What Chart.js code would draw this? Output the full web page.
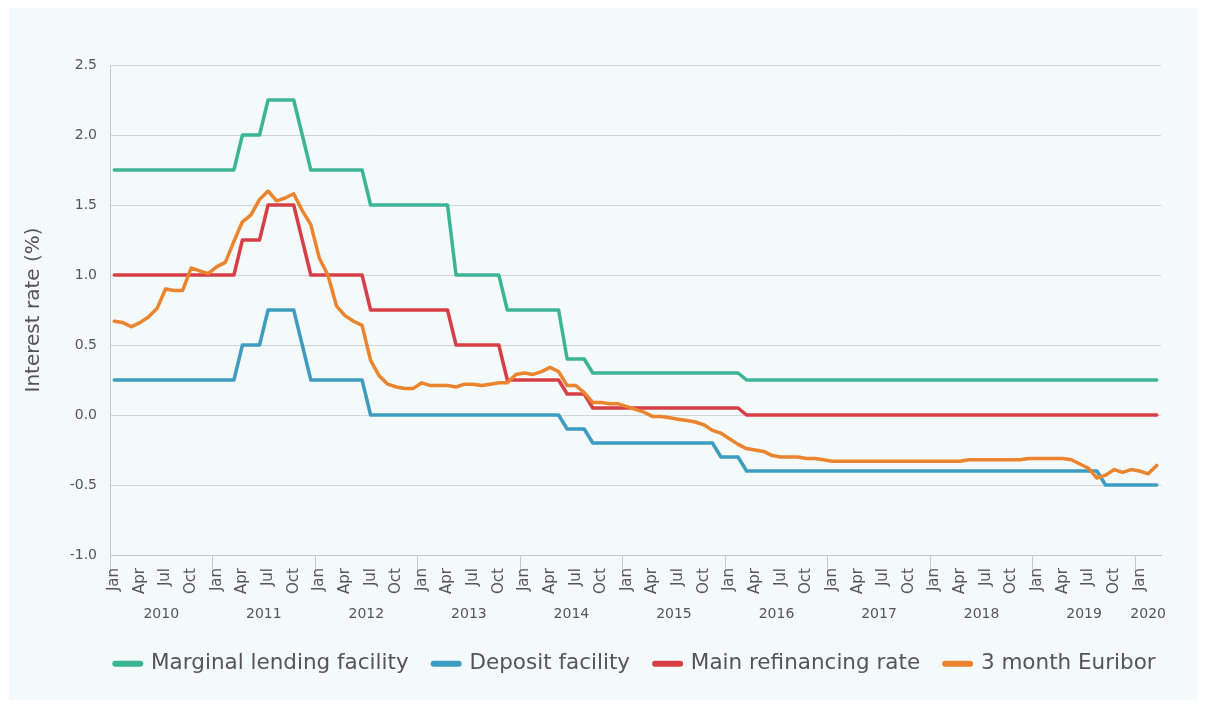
<!DOCTYPE html>
<html>
<head>
<meta charset="utf-8">
<script src="https://cdn.jsdelivr.net/npm/chart.js@4.4.1/dist/chart.umd.min.js"></script>
<style>
html,body{margin:0;padding:0;background:#ffffff;width:1207px;height:707px;overflow:hidden;}
#panel{position:absolute;left:9px;top:8px;width:1188px;height:692px;background:#f4f9f9;}
canvas{display:block;}
</style>
</head>
<body>
<div id="panel"><canvas id="c" width="1188" height="692"></canvas></div>
<script>
// ---- Categories ----
const monthNames = ['Jan','Feb','Mar','Apr','May','Jun','Jul','Aug','Sep','Oct','Nov','Dec'];
const years = [2010,2011,2012,2013,2014,2015,2016,2017,2018,2019,2020];
const monthsInLastYear = 3;
const shownMonths = ['Jan','Apr','Jul','Oct'];
const months = [];
years.forEach((y, yi) => {
  const n = yi === years.length - 1 ? monthsInLastYear : 12;
  for (let m = 0; m < n; m++) months.push(monthNames[m] + ' ' + y);
});

// ---- Series (monthly, Jan 2010 - Mar 2020) ----
const marginalLending = [
  1.75,1.75,1.75,1.75,1.75,1.75,1.75,1.75,1.75,1.75,1.75,1.75,
  1.75,1.75,1.75,2.00,2.00,2.00,2.25,2.25,2.25,2.25,2.00,1.75,
  1.75,1.75,1.75,1.75,1.75,1.75,1.50,1.50,1.50,1.50,1.50,1.50,
  1.50,1.50,1.50,1.50,1.00,1.00,1.00,1.00,1.00,1.00,0.75,0.75,
  0.75,0.75,0.75,0.75,0.75,0.40,0.40,0.40,0.30,0.30,0.30,0.30,
  0.30,0.30,0.30,0.30,0.30,0.30,0.30,0.30,0.30,0.30,0.30,0.30,
  0.30,0.30,0.25,0.25,0.25,0.25,0.25,0.25,0.25,0.25,0.25,0.25,
  0.25,0.25,0.25,0.25,0.25,0.25,0.25,0.25,0.25,0.25,0.25,0.25,
  0.25,0.25,0.25,0.25,0.25,0.25,0.25,0.25,0.25,0.25,0.25,0.25,
  0.25,0.25,0.25,0.25,0.25,0.25,0.25,0.25,0.25,0.25,0.25,0.25,
  0.25,0.25,0.25
];
const depositFacility = [
  0.25,0.25,0.25,0.25,0.25,0.25,0.25,0.25,0.25,0.25,0.25,0.25,
  0.25,0.25,0.25,0.50,0.50,0.50,0.75,0.75,0.75,0.75,0.50,0.25,
  0.25,0.25,0.25,0.25,0.25,0.25,0.00,0.00,0.00,0.00,0.00,0.00,
  0.00,0.00,0.00,0.00,0.00,0.00,0.00,0.00,0.00,0.00,0.00,0.00,
  0.00,0.00,0.00,0.00,0.00,-0.10,-0.10,-0.10,-0.20,-0.20,-0.20,-0.20,
  -0.20,-0.20,-0.20,-0.20,-0.20,-0.20,-0.20,-0.20,-0.20,-0.20,-0.20,-0.30,
  -0.30,-0.30,-0.40,-0.40,-0.40,-0.40,-0.40,-0.40,-0.40,-0.40,-0.40,-0.40,
  -0.40,-0.40,-0.40,-0.40,-0.40,-0.40,-0.40,-0.40,-0.40,-0.40,-0.40,-0.40,
  -0.40,-0.40,-0.40,-0.40,-0.40,-0.40,-0.40,-0.40,-0.40,-0.40,-0.40,-0.40,
  -0.40,-0.40,-0.40,-0.40,-0.40,-0.40,-0.40,-0.40,-0.50,-0.50,-0.50,-0.50,
  -0.50,-0.50,-0.50
];
const mainRefinancing = [
  1.00,1.00,1.00,1.00,1.00,1.00,1.00,1.00,1.00,1.00,1.00,1.00,
  1.00,1.00,1.00,1.25,1.25,1.25,1.50,1.50,1.50,1.50,1.25,1.00,
  1.00,1.00,1.00,1.00,1.00,1.00,0.75,0.75,0.75,0.75,0.75,0.75,
  0.75,0.75,0.75,0.75,0.50,0.50,0.50,0.50,0.50,0.50,0.25,0.25,
  0.25,0.25,0.25,0.25,0.25,0.15,0.15,0.15,0.05,0.05,0.05,0.05,
  0.05,0.05,0.05,0.05,0.05,0.05,0.05,0.05,0.05,0.05,0.05,0.05,
  0.05,0.05,0.00,0.00,0.00,0.00,0.00,0.00,0.00,0.00,0.00,0.00,
  0.00,0.00,0.00,0.00,0.00,0.00,0.00,0.00,0.00,0.00,0.00,0.00,
  0.00,0.00,0.00,0.00,0.00,0.00,0.00,0.00,0.00,0.00,0.00,0.00,
  0.00,0.00,0.00,0.00,0.00,0.00,0.00,0.00,0.00,0.00,0.00,0.00,
  0.00,0.00,0.00
];
const euribor3m = [
  0.67,0.66,0.63,0.66,0.70,0.76,0.90,0.89,0.89,1.05,1.03,1.01,
  1.06,1.09,1.24,1.38,1.43,1.54,1.60,1.53,1.55,1.58,1.46,1.36,
  1.12,1.00,0.78,0.71,0.67,0.64,0.39,0.28,0.22,0.20,0.19,0.19,
  0.23,0.21,0.21,0.21,0.20,0.22,0.22,0.21,0.22,0.23,0.23,0.29,
  0.30,0.29,0.31,0.34,0.31,0.21,0.21,0.16,0.09,0.09,0.08,0.08,
  0.06,0.04,0.02,-0.01,-0.01,-0.02,-0.03,-0.04,-0.05,-0.07,-0.11,-0.13,
  -0.17,-0.21,-0.24,-0.25,-0.26,-0.29,-0.30,-0.30,-0.30,-0.31,-0.31,-0.32,
  -0.33,-0.33,-0.33,-0.33,-0.33,-0.33,-0.33,-0.33,-0.33,-0.33,-0.33,-0.33,
  -0.33,-0.33,-0.33,-0.33,-0.32,-0.32,-0.32,-0.32,-0.32,-0.32,-0.32,-0.31,
  -0.31,-0.31,-0.31,-0.31,-0.32,-0.35,-0.38,-0.45,-0.43,-0.39,-0.41,-0.39,
  -0.40,-0.42,-0.36
];

// ---- Axis ----
const yMin = -1.0, yMax = 2.5, yStep = 0.5;

const FONT = 'DejaVu Sans';
const TEXT = '#555555';
const GRID = '#d2d5d8';
Chart.defaults.font.family = FONT;
Chart.defaults.color = TEXT;

const yearLabels = {
  id: 'yearLabels',
  afterDraw(chart) {
    const xs = chart.scales.x, ctx = chart.ctx;
    const half = (xs.getPixelForValue(1) - xs.getPixelForValue(0)) / 2;
    ctx.save();
    ctx.font = '14px "' + FONT + '"';
    ctx.fillStyle = TEXT;
    ctx.textAlign = 'center';
    ctx.textBaseline = 'middle';
    years.forEach(y => {
      const idx = [];
      months.forEach((m, i) => { if (m.endsWith(' ' + y)) idx.push(i); });
      const x0 = xs.getPixelForValue(idx[0]) - half;
      const x1 = xs.getPixelForValue(idx[idx.length - 1]) + half;
      ctx.fillText(String(y), (x0 + x1) / 2, chart.chartArea.bottom + 59);
    });
    ctx.restore();
  }
};
// centre the legend row on the plot area rather than on the canvas
const legendToArea = {
  id: 'legendToArea',
  afterLayout(chart) {
    const lg = chart.legend;
    if (lg) {
      const extra = 60;
      lg.left = chart.chartArea.left - extra;
      lg.right = chart.chartArea.right + extra;
      lg.width = lg.right - lg.left;
    }
  }
};

const common = {borderWidth: 3.5, pointRadius: 0, pointHoverRadius: 0, tension: 0, fill: false,
  borderJoinStyle: 'round', borderCapStyle: 'round'};

new Chart(document.getElementById('c'), {
  type: 'line',
  data: {
    labels: months,
    datasets: [
      Object.assign({label: 'Marginal lending facility', data: marginalLending, borderColor: '#3cb594', backgroundColor: '#3cb594'}, common),
      Object.assign({label: 'Deposit facility', data: depositFacility, borderColor: '#3f9cc1', backgroundColor: '#3f9cc1'}, common),
      Object.assign({label: 'Main refinancing rate', data: mainRefinancing, borderColor: '#d63f48', backgroundColor: '#d63f48'}, common),
      Object.assign({label: '3 month Euribor', data: euribor3m, borderColor: '#ea842f', backgroundColor: '#ea842f', order: -1}, common)
    ]
  },
  options: {
    responsive: false,
    devicePixelRatio: 1,
    animation: false,
    layout: {padding: {left: 0, right: 36, top: 57, bottom: 15.5}},
    scales: {
      x: {
        type: 'category',
        offset: true,
        afterFit(scale) { scale.height = 73; },
        grid: {
          offset: true,
          drawOnChartArea: false,
          drawTicks: true,
          tickLength: 20,
          lineWidth: 1,
          color: (ctx) => (ctx.index !== undefined && months[ctx.index] && months[ctx.index].startsWith('Jan')) ? '#c6c9cc' : 'rgba(0,0,0,0)'
        },
        border: {display: true, color: '#c6c9cc'},
        ticks: {
          autoSkip: false,
          minRotation: 90,
          maxRotation: 90,
          padding: -7,
          color: TEXT,
          font: {size: 15},
          callback(value, index) {
            const m = months[index].split(' ')[0];
            return shownMonths.includes(m) ? m : '';
          }
        }
      },
      y: {
        min: yMin,
        max: yMax,
        afterFit(scale) { scale.width = 101; },
        grid: {color: GRID, drawTicks: false},
        border: {display: true, color: '#c6c9cc'},
        ticks: {
          stepSize: yStep,
          padding: 13,
          color: TEXT,
          font: {size: 14},
          callback: (v) => Number(v).toFixed(1)
        },
        title: {
          display: true,
          text: 'Interest rate (%)',
          color: TEXT,
          font: {size: 20},
          padding: {top: 13, bottom: 0}
        }
      }
    },
    plugins: {
      tooltip: {enabled: false},
      legend: {
        position: 'bottom',
        align: 'center',
        labels: {
          usePointStyle: true,
          pointStyleWidth: 25,
          padding: 25,
          color: TEXT,
          font: {size: 21.5},
          generateLabels(chart) {
            return chart.data.datasets.map((d, i) => ({
              text: d.label, fillStyle: d.borderColor, strokeStyle: d.borderColor,
              lineWidth: 6, lineCap: 'round', pointStyle: 'line', hidden: false,
              datasetIndex: i, fontColor: TEXT
            }));
          }
        }
      }
    }
  },
  plugins: [yearLabels, legendToArea]
});
</script>
</body>
</html>
